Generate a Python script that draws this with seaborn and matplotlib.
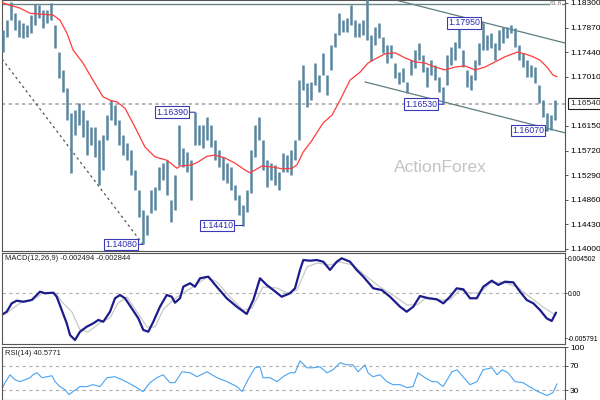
import matplotlib
matplotlib.use("Agg")
import matplotlib.pyplot as plt
import matplotlib.transforms as mtransforms
import numpy as np
import seaborn as sns

# bar highs / lows (one bar every ~4 px)
highs = [
    1.1783, 1.1800, 1.1832, 1.1812, 1.1800, 1.1795, 1.1792, 1.1809, 1.1828, 1.1826,
    1.1818, 1.1818, 1.1830, 1.1792, 1.1744, 1.1713, 1.1681, 1.1638, 1.1643, 1.1655,
    1.1643, 1.1625, 1.1613, 1.1613, 1.1590, 1.1599, 1.1634, 1.1660, 1.1652, 1.1625,
    1.1599, 1.1585, 1.1573, 1.1538, 1.1503, 1.1468, 1.1459, 1.1503, 1.1508, 1.1543,
    1.1550, 1.1555, 1.1486, 1.1529, 1.1617, 1.1576, 1.1569, 1.1555, 1.1639, 1.1617,
    1.1617, 1.1631, 1.1617, 1.1590, 1.1573, 1.1561, 1.1550, 1.1543, 1.1512, 1.1494,
    1.1477, 1.1503, 1.1573, 1.1617, 1.1631, 1.1590, 1.1555, 1.1550, 1.1547, 1.1535,
    1.1568, 1.1564, 1.1573, 1.1590, 1.1695, 1.1722, 1.1690, 1.1692, 1.1725, 1.1704,
    1.1743, 1.1704, 1.1757, 1.1777, 1.1812, 1.1800, 1.1804, 1.1826, 1.1800, 1.1795,
    1.1800, 1.1839, 1.1774, 1.1788, 1.1795, 1.1770, 1.1757, 1.1757, 1.1725, 1.1709,
    1.1716, 1.1692, 1.1730, 1.1748, 1.1760, 1.1739, 1.1718, 1.1730, 1.1722, 1.1701,
    1.1683, 1.1739, 1.1753, 1.1762, 1.1795, 1.1748, 1.1713, 1.1704, 1.1730, 1.1760,
    1.1795, 1.1774, 1.1777, 1.1760, 1.1783, 1.1788, 1.1788, 1.1792, 1.1786, 1.1757,
    1.1743, 1.1730, 1.1722, 1.1718, 1.1687, 1.1660, 1.1638, 1.1634, 1.1660]
lows = [
    1.1744, 1.1770, 1.1800, 1.1783, 1.1770, 1.1769, 1.1770, 1.1777, 1.1792, 1.1804,
    1.1786, 1.1795, 1.1800, 1.1751, 1.1699, 1.1674, 1.1625, 1.1533, 1.1599, 1.1617,
    1.1596, 1.1564, 1.1582, 1.1561, 1.1512, 1.1538, 1.1590, 1.1625, 1.1617, 1.1582,
    1.1564, 1.1555, 1.1529, 1.1503, 1.1456, 1.1408, 1.1424, 1.1463, 1.1468, 1.1503,
    1.1521, 1.1494, 1.1447, 1.1468, 1.1547, 1.1543, 1.1535, 1.1486, 1.1582, 1.1582,
    1.1576, 1.1590, 1.1578, 1.1555, 1.1543, 1.1521, 1.1515, 1.1503, 1.1486, 1.1459,
    1.1441, 1.1465, 1.1498, 1.1561, 1.1590, 1.1538, 1.1508, 1.1521, 1.1512, 1.1503,
    1.1535, 1.1535, 1.1529, 1.1555, 1.1590, 1.1678, 1.1648, 1.1660, 1.1687, 1.1674,
    1.1704, 1.1669, 1.1713, 1.1753, 1.1774, 1.1779, 1.1779, 1.1792, 1.1770, 1.1770,
    1.1774, 1.1765, 1.1729, 1.1757, 1.1769, 1.1743, 1.1725, 1.1734, 1.1699, 1.1688,
    1.1692, 1.1673, 1.1704, 1.1716, 1.1730, 1.1709, 1.1683, 1.1704, 1.1695, 1.1674,
    1.1653, 1.1687, 1.1722, 1.1730, 1.1751, 1.1718, 1.1683, 1.1678, 1.1695, 1.1722,
    1.1748, 1.1748, 1.1751, 1.1730, 1.1748, 1.1760, 1.1769, 1.1777, 1.1753, 1.1730,
    1.1718, 1.1701, 1.1701, 1.1690, 1.1655, 1.1631, 1.1607, 1.1608, 1.1625]
last_price = 1.1654

# moving average (bar position, value)
ma_x = [-0.75, 1.75, 4.25, 6.75, 8.5, 12.5, 14.25, 16, 17.5, 20, 22.5, 25, 26.75, 28.5,
        30.5, 33, 35.5, 38, 41, 43.5, 44.25, 47.25, 48.75, 51, 53, 55.5, 58, 60.5, 61.75,
        64.75, 67.5, 70, 72.25, 73.5, 75, 77.25, 80, 82.25, 84.25, 86.75, 89.25, 91.25,
        93, 95.5, 98, 100.5, 103, 105.5, 108, 110.5, 113, 115.5, 118, 120.5, 123, 125.5,
        128.5, 130.5, 132.5, 134.25, 136, 137.5, 138.5]
ma_y = [1.1832, 1.1826, 1.1821, 1.1812, 1.1811, 1.1809, 1.1800, 1.1777, 1.1748, 1.1725,
        1.1695, 1.1666, 1.1660, 1.1657, 1.1646, 1.1613, 1.1578, 1.1561, 1.1555, 1.1541,
        1.1545, 1.1547, 1.1552, 1.1562, 1.1564, 1.1559, 1.1550, 1.1538, 1.1533, 1.1545,
        1.1543, 1.1540, 1.1541, 1.1547, 1.1569, 1.1590, 1.1620, 1.1634, 1.1660, 1.1695,
        1.1709, 1.1725, 1.1732, 1.1741, 1.1743, 1.1734, 1.1727, 1.1725, 1.1718, 1.1713,
        1.1718, 1.1720, 1.1713, 1.1718, 1.1727, 1.1736, 1.1744, 1.1741, 1.1736, 1.1730,
        1.1718, 1.1704, 1.1701]

# trend lines
fib_618 = 1.1829
down_x = [-0.25, 35]
down_y = [1.1732, 1.1408]
upper_ch_x = [98.25, 140.5]
upper_ch_y = [1.1835, 1.1760]
lower_ch_x = [90.5, 140.5]
lower_ch_y = [1.1692, 1.1603]

# swing labels
pivot_text = ["1.16390", "1.14080", "1.14410", "1.16530", "1.17950", "1.16070"]
pivot_bar = [48, 35, 60, 110, 120, 136]
pivot_price = [1.1639, 1.1408, 1.1441, 1.1653, 1.1795, 1.1607]

price_ticks = [1.18300, 1.17870, 1.17440, 1.17010, 1.16150, 1.15720,
               1.15290, 1.14860, 1.14430, 1.14000]

# MACD main / signal
macd_x = [-0.33, 0.93, 2.18, 3.43, 5.08, 7.18, 8.43, 9.25, 10.5, 12.58, 13.43, 14.68,
          15.93, 16.75, 18, 19.25, 20.93, 22.58, 23.83, 25.08, 26.75, 28, 29.25, 30.5,
          32.18, 33.83, 35.08, 36.33, 37.58, 39.25, 40.93, 42.18, 43, 44.25, 45.08, 46.75,
          48, 49.25, 51.33, 53.43, 55.93, 58.43, 60.93, 62.58, 64.25, 65.93, 67.58, 69.68,
          71.75, 73, 74.25, 75.08, 76.75, 78.43, 80.08, 81.75, 83.43, 84.68, 86.75, 88.43,
          90.08, 92.58, 94.68, 96.75, 99.25, 100.93, 102.58, 104.25, 106.33, 108.43,
          110.08, 111.75, 113.43, 115.08, 116.75, 118.43, 120.08, 122.18, 123.83, 125.5,
          127.58, 129.25, 130.93, 132.58, 134.25, 135.93, 137.18, 138.25]
macd_y = [-0.00279, -0.00237, -0.00129, -0.00095, -0.00108, -0.00086, -0.00022, 0.00021,
          0.0, 0.00008, -0.00044, -0.00215, -0.00386, -0.00536, -0.00601, -0.00494,
          -0.00430, -0.00386, -0.00343, -0.00365, -0.00237, -0.00064, -0.00022, -0.00064,
          -0.00193, -0.00322, -0.00472, -0.00494, -0.00365, -0.00172, -0.00022, -0.00044,
          -0.00121, -0.00064, 0.00085, 0.00129, 0.00085, 0.00193, 0.00214, 0.00085,
          -0.00064, -0.00172, -0.00266, -0.00086, 0.00193, 0.00107, 0.00042, -0.00044,
          0.0, 0.00064, 0.00300, 0.00428, 0.00419, 0.00428, 0.00406, 0.00300, 0.00406,
          0.00450, 0.00406, 0.00300, 0.00214, 0.00064, 0.00042, -0.00044, -0.00172,
          -0.00237, -0.00172, -0.00035, -0.00064, -0.00077, -0.00129, -0.00044, 0.00064,
          0.00051, -0.00064, -0.00064, 0.00085, 0.00162, 0.00107, 0.00149, 0.00141,
          0.00021, -0.00086, -0.00129, -0.00215, -0.00322, -0.00356, -0.00249]
signal_x = [0.93, 4.25, 7.5, 10, 13, 15, 17.25, 19.25, 21.25, 24.25, 26.75, 28.75, 31,
            33.5, 36, 38, 40, 42.5, 45, 47.5, 51, 53.5, 56.75, 60, 62.25, 65, 68.5, 71,
            73.5, 74.25, 76, 78.5, 81.75, 84.25, 87.5, 91, 94.25, 97.5, 101, 103.5, 106,
            109.25, 111.75, 114.25, 116.75, 119.25, 121.75, 125, 128.5, 131.75, 135, 138.25]
signal_y = [-0.00253, -0.00125, -0.00086, 0.00004, 0.00004, -0.00125, -0.00240, -0.00470,
            -0.00497, -0.00381, -0.00318, -0.00125, -0.00048, -0.00240, -0.00433, -0.00433,
            -0.00215, -0.00086, 0.00004, 0.00081, 0.00210, 0.00145, -0.00048, -0.00215,
            -0.00189, 0.00081, 0.00068, 0.00004, 0.00042, 0.00132, 0.00338, 0.00390,
            0.00364, 0.00403, 0.00364, 0.00210, 0.00081, -0.00022, -0.00150, -0.00150,
            -0.00048, -0.00086, -0.00086, 0.00042, 0.00004, 0.00004, 0.00132, 0.00145,
            0.00081, -0.00048, -0.00176, -0.00284]

# RSI(14)
rsi_x = [-0.33, 0.5, 1.75, 3, 4.25, 5.5, 6.75, 7.5, 8.5, 9.75, 11, 12.25, 13, 14.25, 15.5,
         16.5, 17.5, 19.25, 21, 22.5, 24.25, 26, 28, 29.75, 31.25, 33, 35, 36.75, 38.5, 40,
         41.75, 43, 44.75, 46.75, 48.5, 51, 53.5, 56, 58.5, 59.75, 61.25, 63, 64.25, 65,
         66.75, 68.5, 70, 71.75, 73, 74.25, 76, 77.5, 79.25, 81, 82.5, 84.25, 86, 87.5,
         88.75, 90.5, 91.25, 92.5, 94.25, 96, 97.5, 99.25, 101, 102.5, 103.75, 105.5,
         107.25, 108.5, 110, 112.25, 113.5, 115, 116.75, 118.5, 120, 122.25, 123.5, 124.75,
         126.25, 128, 130, 132, 133.75, 136, 137.5, 138.5]
rsi_y = [31.1, 42.5, 55.4, 47.3, 44.1, 47.3, 50.6, 55.4, 58.7, 50.6, 52.2, 53.8, 44.1, 36.0,
         31.1, 23.0, 27.9, 36.0, 36.0, 39.2, 36.0, 50.6, 52.2, 47.3, 42.5, 36.0, 27.9, 42.5,
         50.6, 55.4, 42.5, 42.5, 60.3, 58.7, 52.2, 60.3, 50.6, 44.1, 36.0, 27.9, 47.3, 66.8,
         68.4, 50.6, 50.6, 44.1, 52.2, 58.7, 58.7, 78.1, 66.8, 66.8, 68.4, 58.7, 63.5, 74.9,
         71.6, 71.6, 60.3, 71.6, 58.7, 52.2, 55.4, 44.1, 39.2, 39.2, 34.4, 36.0, 58.7, 50.6,
         44.1, 44.1, 36.0, 60.3, 63.5, 52.2, 39.2, 44.1, 63.5, 66.8, 55.4, 63.5, 58.7, 44.1,
         42.5, 34.4, 27.9, 21.4, 26.3, 40.6]

sns.set_theme(style="white")
plt.rcParams['font.family'] = ['Liberation Sans', 'DejaVu Sans']

fig = plt.figure(figsize=(6, 4), dpi=100)


def panel(y0, y1):
    # axes placed in pixel rows of the 600x400 canvas
    return fig.add_axes([2 / 600, 1 - y1 / 400, 563 / 600, (y1 - y0) / 400])


ax = panel(0, 250.5)
ax_macd = panel(252.5, 343.5)
ax_rsi = panel(346.5, 399.5)

bars = np.arange(len(highs))
ax.vlines(bars, lows, highs, color='#5b86a0', lw=1.8, zorder=3)
sns.lineplot(x=ma_x, y=ma_y, ax=ax, color='#ff3b3b', lw=0.9, zorder=4)
sns.lineplot(x=down_x, y=down_y, ax=ax, color='#555555', lw=0.9, linestyle=(0, (2, 2.5)))
sns.lineplot(x=upper_ch_x, y=upper_ch_y, ax=ax, color='#5f7d7d', lw=0.9)
sns.lineplot(x=lower_ch_x, y=lower_ch_y, ax=ax, color='#5f7d7d', lw=0.9)
ax.axhline(fib_618, color='#6a8585', lw=1.0)
ax.axhline(last_price, color='#a8a8a8', lw=1.2, linestyle=(0, (2, 2)), zorder=1)

gaps = [1.75, 1.5, 2.5, 1.5, 0.75, 0.75]
for txt, b, p, g in zip(pivot_text, pivot_bar, pivot_price, gaps):
    ax.annotate(txt, xy=(b, p), xytext=(b - g, p), ha='right', va='center',
                fontsize=6.3, color='#2b2bb0', zorder=6,
                bbox=dict(boxstyle='square,pad=0.15', fc='white', ec='#3a3ab8', lw=0.8),
                arrowprops=dict(arrowstyle='-', color='#3a3ab8', lw=0.8,
                                shrinkA=0, shrinkB=0))

ax.text(0.778, 0.333, 'ActionForex', transform=ax.transAxes, ha='center', va='center',
        fontsize=12.5, color='#c4c4c4')
blend = mtransforms.blended_transform_factory(ax.transAxes, ax.transData)
ax.text(0.995, fib_618, '61.8', transform=blend, ha='right', va='center',
        fontsize=4.5, color='#777777',
        bbox=dict(boxstyle='square,pad=0.05', fc='white', ec='none'))
ax.annotate('1.16540', xy=(1.0, last_price), xycoords=('axes fraction', 'data'),
            xytext=(3.5, 0), textcoords='offset points', ha='left', va='center',
            fontsize=6, annotation_clip=False,
            bbox=dict(boxstyle='square,pad=0.2', fc='white', ec='#222222', lw=0.8))

ax.set_ylim(1.13973, 1.18352)
ax.set_yticks(price_ticks)
ax.set_yticklabels([f"{t:.5f}" for t in price_ticks])

sns.lineplot(x=signal_x, y=signal_y, ax=ax_macd, color='#c8c8c8', lw=0.9)
sns.lineplot(x=macd_x, y=macd_y, ax=ax_macd, color='#1c1c8c', lw=1.6)
ax_macd.axhline(0, color='#b0b0b0', lw=0.8, linestyle=(0, (3, 3)), zorder=0)
ax_macd.set_ylim(-0.006456, 0.005247)
ax_macd.set_yticks([0.004502, 0.0, -0.005791])
ax_macd.set_yticklabels(['0.004502', '0.00', '-0.005791'])
ax_macd.text(0.006, 0.93, 'MACD(12,26,9) -0.002494 -0.002844', transform=ax_macd.transAxes,
             fontsize=5.5, va='center', ha='left', color='#222222')

sns.lineplot(x=rsi_x, y=rsi_y, ax=ax_rsi, color='#4aa3f0', lw=0.8)
for lvl in (70, 30):
    ax_rsi.axhline(lvl, color='#b0b0b0', lw=0.8, linestyle=(0, (3, 3)), zorder=0)
ax_rsi.set_ylim(14.95, 101.6)
ax_rsi.set_yticks([100, 70, 30])
ax_rsi.set_yticklabels(['100', '70', '30'])
ax_rsi.text(0.006, 0.86, 'RSI(14) 40.5771', transform=ax_rsi.transAxes,
            fontsize=5.5, va='center', ha='left', color='#222222')

for a in (ax, ax_macd, ax_rsi):
    a.set_xlim(-0.25, 140.5)
    a.set_xticks([])
    a.set_xlabel('')
    a.set_ylabel('')
    a.yaxis.tick_right()
    a.tick_params(axis='y', labelsize=6, length=2, width=0.6, pad=1.5,
                  direction='out', right=True, colors='#333333', labelcolor='black')
    for s in a.spines.values():
        s.set_color('#555555')
        s.set_linewidth(0.8)

ax_macd.tick_params(axis='y', labelsize=4.9, length=1.5, pad=0.8)
ax_rsi.set_yticks([100, 70, 30])

fig.savefig('out.png', dpi=100)
